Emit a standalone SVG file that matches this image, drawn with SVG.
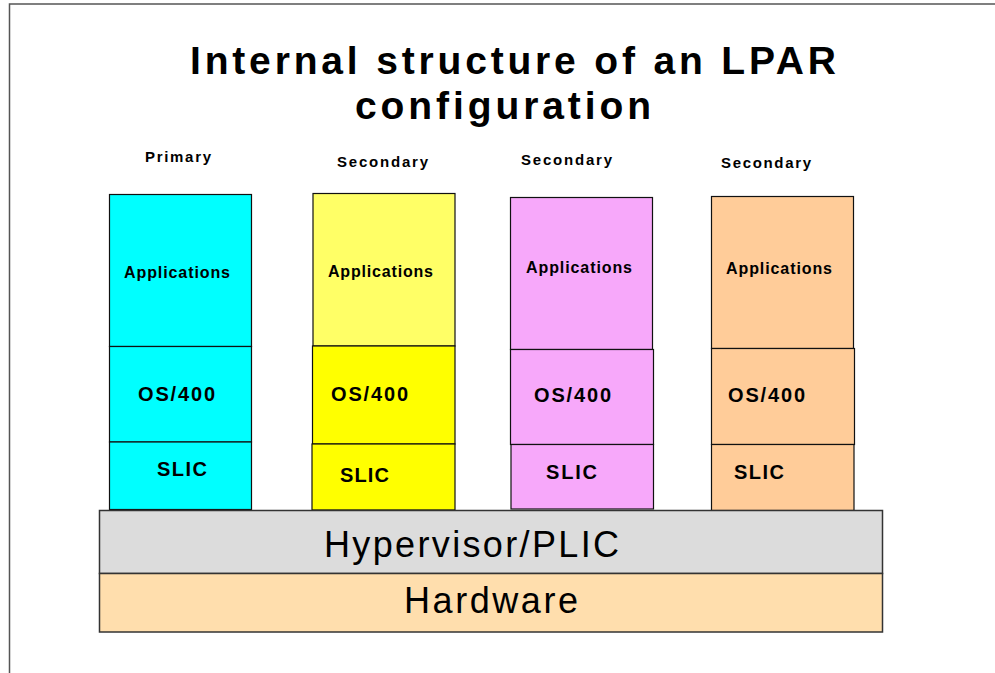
<svg xmlns="http://www.w3.org/2000/svg" width="995" height="673" viewBox="0 0 995 673">
<style>
  text { font-family: "Liberation Sans", Arial, sans-serif; fill: #000; }
  .title { font-size: 39px; font-weight: bold; }
  .lbl { font-size: 15px; font-weight: bold; }
  .app { font-size: 16px; font-weight: bold; }
  .os { font-size: 20px; font-weight: bold; }
  .base { font-size: 36px; }
  .box { stroke: #111; stroke-width: 1.2; }
  .cyan { fill: #00FFFF; }
  .ylt { fill: #FFFF66; }
  .yel { fill: #FFFF00; }
  .pink { fill: #F7A8FA; }
  .orng { fill: #FFCC99; }
  .layer { stroke: #333; stroke-width: 1.5; }
</style>
<rect width="995" height="673" fill="#fff"/>
<path d="M9.5 673 V4 H995" fill="none" stroke="#555" stroke-width="1.5"/>
<g id="title">
  <text class="title" x="190" y="74" textLength="646" lengthAdjust="spacing">Internal structure of an LPAR</text>
  <text class="title" x="355" y="119" textLength="296" lengthAdjust="spacing">configuration</text>
</g>
<g id="connectors"></g>
<g id="col1">
  <text class="lbl" x="145" y="162" textLength="66" lengthAdjust="spacing">Primary</text>
  <g id="col1-apps"><rect class="box cyan" x="109.5" y="194.5" width="142" height="152"/>
    <text class="app" x="124" y="278" textLength="106" lengthAdjust="spacing">Applications</text></g>
  <g id="col1-os"><rect class="box cyan" x="109.5" y="346.5" width="142" height="95.5"/>
    <text class="os" x="138" y="401" textLength="77" lengthAdjust="spacing">OS/400</text></g>
  <g id="col1-slic"><rect class="box cyan" x="109.5" y="442" width="142" height="67.5"/>
    <text class="os" x="157" y="476" textLength="50" lengthAdjust="spacing">SLIC</text></g>
</g>
<g id="col2">
  <text class="lbl" x="337" y="166.5" textLength="91" lengthAdjust="spacing">Secondary</text>
  <g id="col2-apps"><rect class="box ylt" x="313" y="193.5" width="142" height="152.5"/>
    <text class="app" x="328" y="276.5" textLength="105" lengthAdjust="spacing">Applications</text></g>
  <g id="col2-os"><rect class="box yel" x="312.5" y="346" width="142.5" height="98"/>
    <text class="os" x="331" y="401" textLength="77" lengthAdjust="spacing">OS/400</text></g>
  <g id="col2-slic"><rect class="box yel" x="312" y="444" width="143" height="66"/>
    <text class="os" x="340" y="482" textLength="49" lengthAdjust="spacing">SLIC</text></g>
</g>
<g id="col3">
  <text class="lbl" x="521" y="164.5" textLength="91" lengthAdjust="spacing">Secondary</text>
  <g id="col3-apps"><rect class="box pink" x="510.5" y="197.5" width="142" height="152"/>
    <text class="app" x="526" y="272.5" textLength="106" lengthAdjust="spacing">Applications</text></g>
  <g id="col3-os"><rect class="box pink" x="510.5" y="349.5" width="143" height="95" stroke="#444"/>
    <text class="os" x="534" y="402" textLength="77" lengthAdjust="spacing">OS/400</text></g>
  <g id="col3-slic"><rect class="box pink" x="511" y="444.5" width="142.5" height="64.5"/>
    <text class="os" x="546" y="479" textLength="51" lengthAdjust="spacing">SLIC</text></g>
</g>
<g id="col4">
  <text class="lbl" x="721" y="167.5" textLength="90" lengthAdjust="spacing">Secondary</text>
  <g id="col4-apps"><rect class="box orng" x="711.5" y="196.5" width="142" height="152"/>
    <text class="app" x="726" y="274" textLength="106" lengthAdjust="spacing">Applications</text></g>
  <g id="col4-os"><rect class="box orng" x="711.5" y="348.5" width="143" height="96"/>
    <text class="os" x="728" y="402" textLength="77" lengthAdjust="spacing">OS/400</text></g>
  <g id="col4-slic"><rect class="box orng" x="711.5" y="444.5" width="142.5" height="66"/>
    <text class="os" x="734" y="479" textLength="50" lengthAdjust="spacing">SLIC</text></g>
</g>
<g id="hypervisor">
  <rect class="layer" x="99.5" y="510.5" width="783" height="63" fill="#DCDCDC"/>
  <text class="base" x="324" y="557" textLength="295" lengthAdjust="spacing">Hypervisor/PLIC</text>
</g>
<g id="hardware">
  <rect class="layer" x="99.5" y="573.5" width="783" height="58.5" fill="#FFDEAD"/>
  <text class="base" x="404" y="613" textLength="174" lengthAdjust="spacing">Hardware</text>
</g>
</svg>
